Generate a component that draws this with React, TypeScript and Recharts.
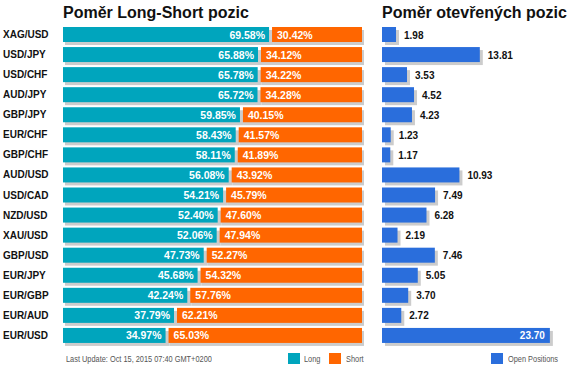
import React from 'react';
import { BarChart, Bar, XAxis, YAxis, LabelList } from 'recharts';

const pairs = ['XAG/USD', 'USD/JPY', 'USD/CHF', 'AUD/JPY', 'GBP/JPY', 'EUR/CHF', 'GBP/CHF', 'AUD/USD', 'USD/CAD', 'NZD/USD', 'XAU/USD', 'GBP/USD', 'EUR/JPY', 'EUR/GBP', 'EUR/AUD', 'EUR/USD'];
const longPct = [69.58, 65.88, 65.78, 65.72, 59.85, 58.43, 58.11, 56.08, 54.21, 52.40, 52.06, 47.73, 45.68, 42.24, 37.79, 34.97];
const shortPct = [30.42, 34.12, 34.22, 34.28, 40.15, 41.57, 41.89, 43.92, 45.79, 47.60, 47.94, 52.27, 54.32, 57.76, 62.21, 65.03];
const openPos = [1.98, 13.81, 3.53, 4.52, 4.23, 1.23, 1.17, 10.93, 7.49, 6.28, 2.19, 7.46, 5.05, 3.70, 2.72, 23.70];

const FONT = '"Liberation Sans", Arial, sans-serif';
const TEAL = '#00a5bd';
const ORANGE = '#ff6600';
const BLUE = '#2a6edc';
const SHADOW = '#cccccc';

const ratioData = pairs.map((pair, i) => ({ pair, long: longPct[i], short: shortPct[i] }));
const openData = pairs.map((pair, i) => ({ pair, open: openPos[i] }));
const maxOpen = Math.max(...openPos);

const LongShape = (p: any) => (
  <g>
    <rect x={p.x + 2} y={p.y + 3} width={p.width} height={p.height} fill={SHADOW} />
    <rect x={p.x} y={p.y} width={Math.max(p.width - 2, 0)} height={p.height} fill={TEAL} />
  </g>
);

const ShortShape = (p: any) => (
  <g>
    <rect x={p.x + 2} y={p.y + 3} width={p.width} height={p.height} fill={SHADOW} />
    <rect x={p.x + 1} y={p.y} width={Math.max(p.width - 1, 0)} height={p.height} fill={ORANGE} />
  </g>
);

const OpenShape = (p: any) => (
  <g>
    <rect x={p.x + 3} y={p.y + 3} width={p.width} height={p.height} fill={SHADOW} />
    <rect x={p.x} y={p.y} width={p.width} height={p.height} fill={BLUE} />
  </g>
);

const PairTick = (props: any) => (
  <text x={3} y={props.y} dy={4} fontFamily={FONT} fontSize={10} fontWeight="bold" fill="#111">
    {props.payload.value}
  </text>
);

const pctLabel = (side: 'long' | 'short') => (props: any) => {
  const { x, y, width, height, value } = props;
  const tx = side === 'long' ? x + width - 6 : x + 6;
  return (
    <text x={tx} y={y + height / 2} dy={4} textAnchor={side === 'long' ? 'end' : 'start'}
      fontFamily={FONT} fontSize={10.5} fontWeight="bold" fill="#fff">
      {Number(value).toFixed(2)}%
    </text>
  );
};

const OpenLabel = (props: any) => {
  const { x, y, width, height, value } = props;
  const inside = value === maxOpen;
  return (
    <text x={inside ? x + width - 5 : x + width + 8} y={y + height / 2} dy={4}
      textAnchor={inside ? 'end' : 'start'} fontFamily={FONT} fontSize={10} fontWeight="bold"
      fill={inside ? '#fff' : '#111'}>
      {Number(value).toFixed(2)}
    </text>
  );
};

const title: React.CSSProperties = {
  position: 'absolute', top: 4, fontFamily: FONT, fontSize: 16, fontWeight: 'bold', color: '#111', whiteSpace: 'nowrap',
};
const small: React.CSSProperties = {
  position: 'absolute', fontFamily: FONT, fontSize: 9, color: '#555', whiteSpace: 'nowrap',
  transform: 'scaleX(0.82)', transformOrigin: 'left center',
};
const swatch = (color: string, left: number): React.CSSProperties => ({
  position: 'absolute', left, top: 353, width: 12, height: 11, background: color,
});

export default function App() {
  return (
    <div style={{ position: 'absolute', left: 0, top: 0, width: 573, height: 372, background: '#fff', overflow: 'hidden' }}>
      <div style={{ ...title, left: 63 }}>Poměr Long-Short pozic</div>
      <div style={{ ...title, left: 382 }}>Poměr otevřených pozic</div>

      <div style={{ position: 'absolute', left: 0, top: 0 }}>
        <BarChart width={372} height={372} data={ratioData} layout="vertical" barSize={15}
          margin={{ top: 24, right: 10, bottom: 27, left: 0 }}>
          <XAxis type="number" domain={[0, 100]} hide />
          <YAxis type="category" dataKey="pair" width={63} axisLine={false} tickLine={false} tick={PairTick} interval={0} />
          <Bar dataKey="long" stackId="a" shape={LongShape} isAnimationActive={false}>
            <LabelList dataKey="long" content={pctLabel('long')} />
          </Bar>
          <Bar dataKey="short" stackId="a" shape={ShortShape} isAnimationActive={false}>
            <LabelList dataKey="short" content={pctLabel('short')} />
          </Bar>
        </BarChart>
      </div>

      <div style={{ position: 'absolute', left: 372, top: 0 }}>
        <BarChart width={201} height={372} data={openData} layout="vertical" barSize={15}
          margin={{ top: 24, right: 21, bottom: 27, left: 10 }}>
          <XAxis type="number" domain={[0, 24]} hide />
          <YAxis type="category" dataKey="pair" hide />
          <Bar dataKey="open" shape={OpenShape} isAnimationActive={false}>
            <LabelList dataKey="open" content={OpenLabel} />
          </Bar>
        </BarChart>
      </div>

      <div style={{ ...small, left: 66, top: 354 }}>Last Update: Oct 15, 2015 07:40 GMT+0200</div>
      <div style={swatch(TEAL, 288)} />
      <div style={{ ...small, left: 304, top: 354 }}>Long</div>
      <div style={swatch(ORANGE, 329)} />
      <div style={{ ...small, left: 346, top: 354 }}>Short</div>
      <div style={swatch(BLUE, 491)} />
      <div style={{ ...small, left: 508, top: 354 }}>Open Positions</div>
    </div>
  );
}
